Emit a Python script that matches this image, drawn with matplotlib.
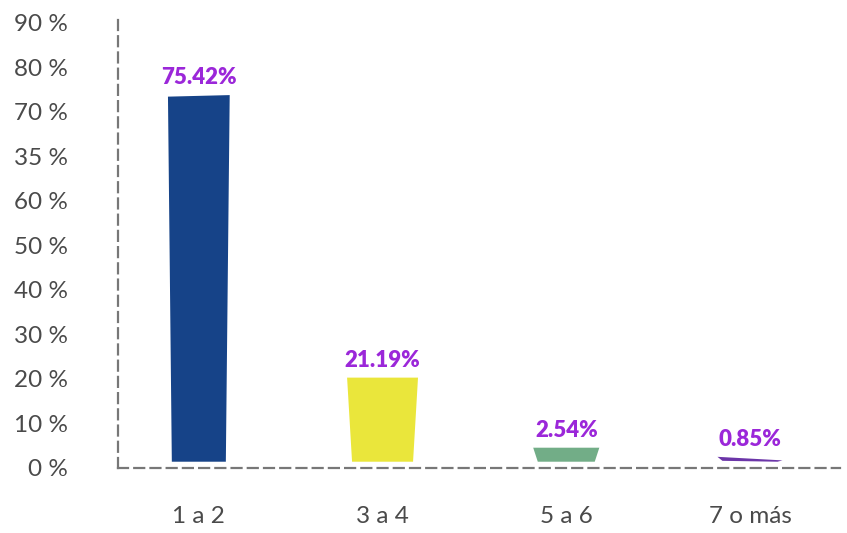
import matplotlib
matplotlib.use("Agg")
import matplotlib.pyplot as plt
from matplotlib.patches import Polygon

# ---- data ----
categories = ["1 a 2", "3 a 4", "5 a 6", "7 o más"]
values = [75.42, 21.19, 2.54, 0.85]                      # shown percentages
drawn_heights = [83.7, 20.2, 4.45, 2.4]                  # bar tops as drawn (axis units)
ytick_labels = ["0 %", "10 %", "20 %", "30 %", "40 %", "50 %",
                "60 %", "35 %", "70 %", "80 %", "90 %"]

# ---- style ----
colors = ["#164388", "#eae63b", "#72ad87", "#6b35a8"]
label_color = "#9b27d9"
axis_color = "#777777"
tick_color = "#4a4a4a"
base = 1.3
top_half = [0.168, 0.193, 0.180, 0.177]
bot_half = [0.147, 0.166, 0.155, 0.150]
top_tilt = [-0.35, 0.0, 0.0, -0.4]   # left corner lower by this much (axis units)

fig = plt.figure(figsize=(8.47, 5.33), dpi=100)
ax = fig.add_axes([118/847, 1-467.5/533, (840-118)/847, (467.5-15)/533])

xpos = list(range(len(categories)))
for i, (x, h) in enumerate(zip(xpos, drawn_heights)):
    if i == 3:
        pts = [(x - top_half[i], h), (x + top_half[i], base + 0.3),
               (x + bot_half[i], base), (x - bot_half[i], base + 0.2)]
    else:
        pts = [(x - top_half[i], h + top_tilt[i]), (x + top_half[i], h),
               (x + bot_half[i], base), (x - bot_half[i], base)]
    ax.add_patch(Polygon(pts, closed=True, facecolor=colors[i], edgecolor="none"))
    ax.annotate(f"{values[i]:.2f}%", (x, h), xytext=(0, 5), textcoords="offset points",
                ha="center", va="bottom", color=label_color, fontsize=16,
                fontweight="heavy", family=["Lato", "DejaVu Sans"])

ax.set_xlim(-0.44, 3.49)
ax.set_ylim(0, 101.7)
ax.set_yticks([i * 10 for i in range(len(ytick_labels))])
ax.set_yticklabels(ytick_labels)
ax.set_xticks(xpos)
ax.set_xticklabels(categories)

for lab in ax.get_yticklabels() + ax.get_xticklabels():
    lab.set_family(["Lato", "DejaVu Sans"])
    lab.set_fontweight("normal")
    lab.set_fontsize(17.5)
    lab.set_color(tick_color)

ax.tick_params(axis="y", length=0, pad=36)
ax.tick_params(axis="x", length=0, pad=28)

for s in ["top", "right"]:
    ax.spines[s].set_visible(False)
for s in ["left", "bottom"]:
    ax.spines[s].set_color(axis_color)
    ax.spines[s].set_linewidth(1.6)
    ax.spines[s].set_linestyle((0, (4.5, 2.8)))

fig.savefig("out.png", dpi=100)
